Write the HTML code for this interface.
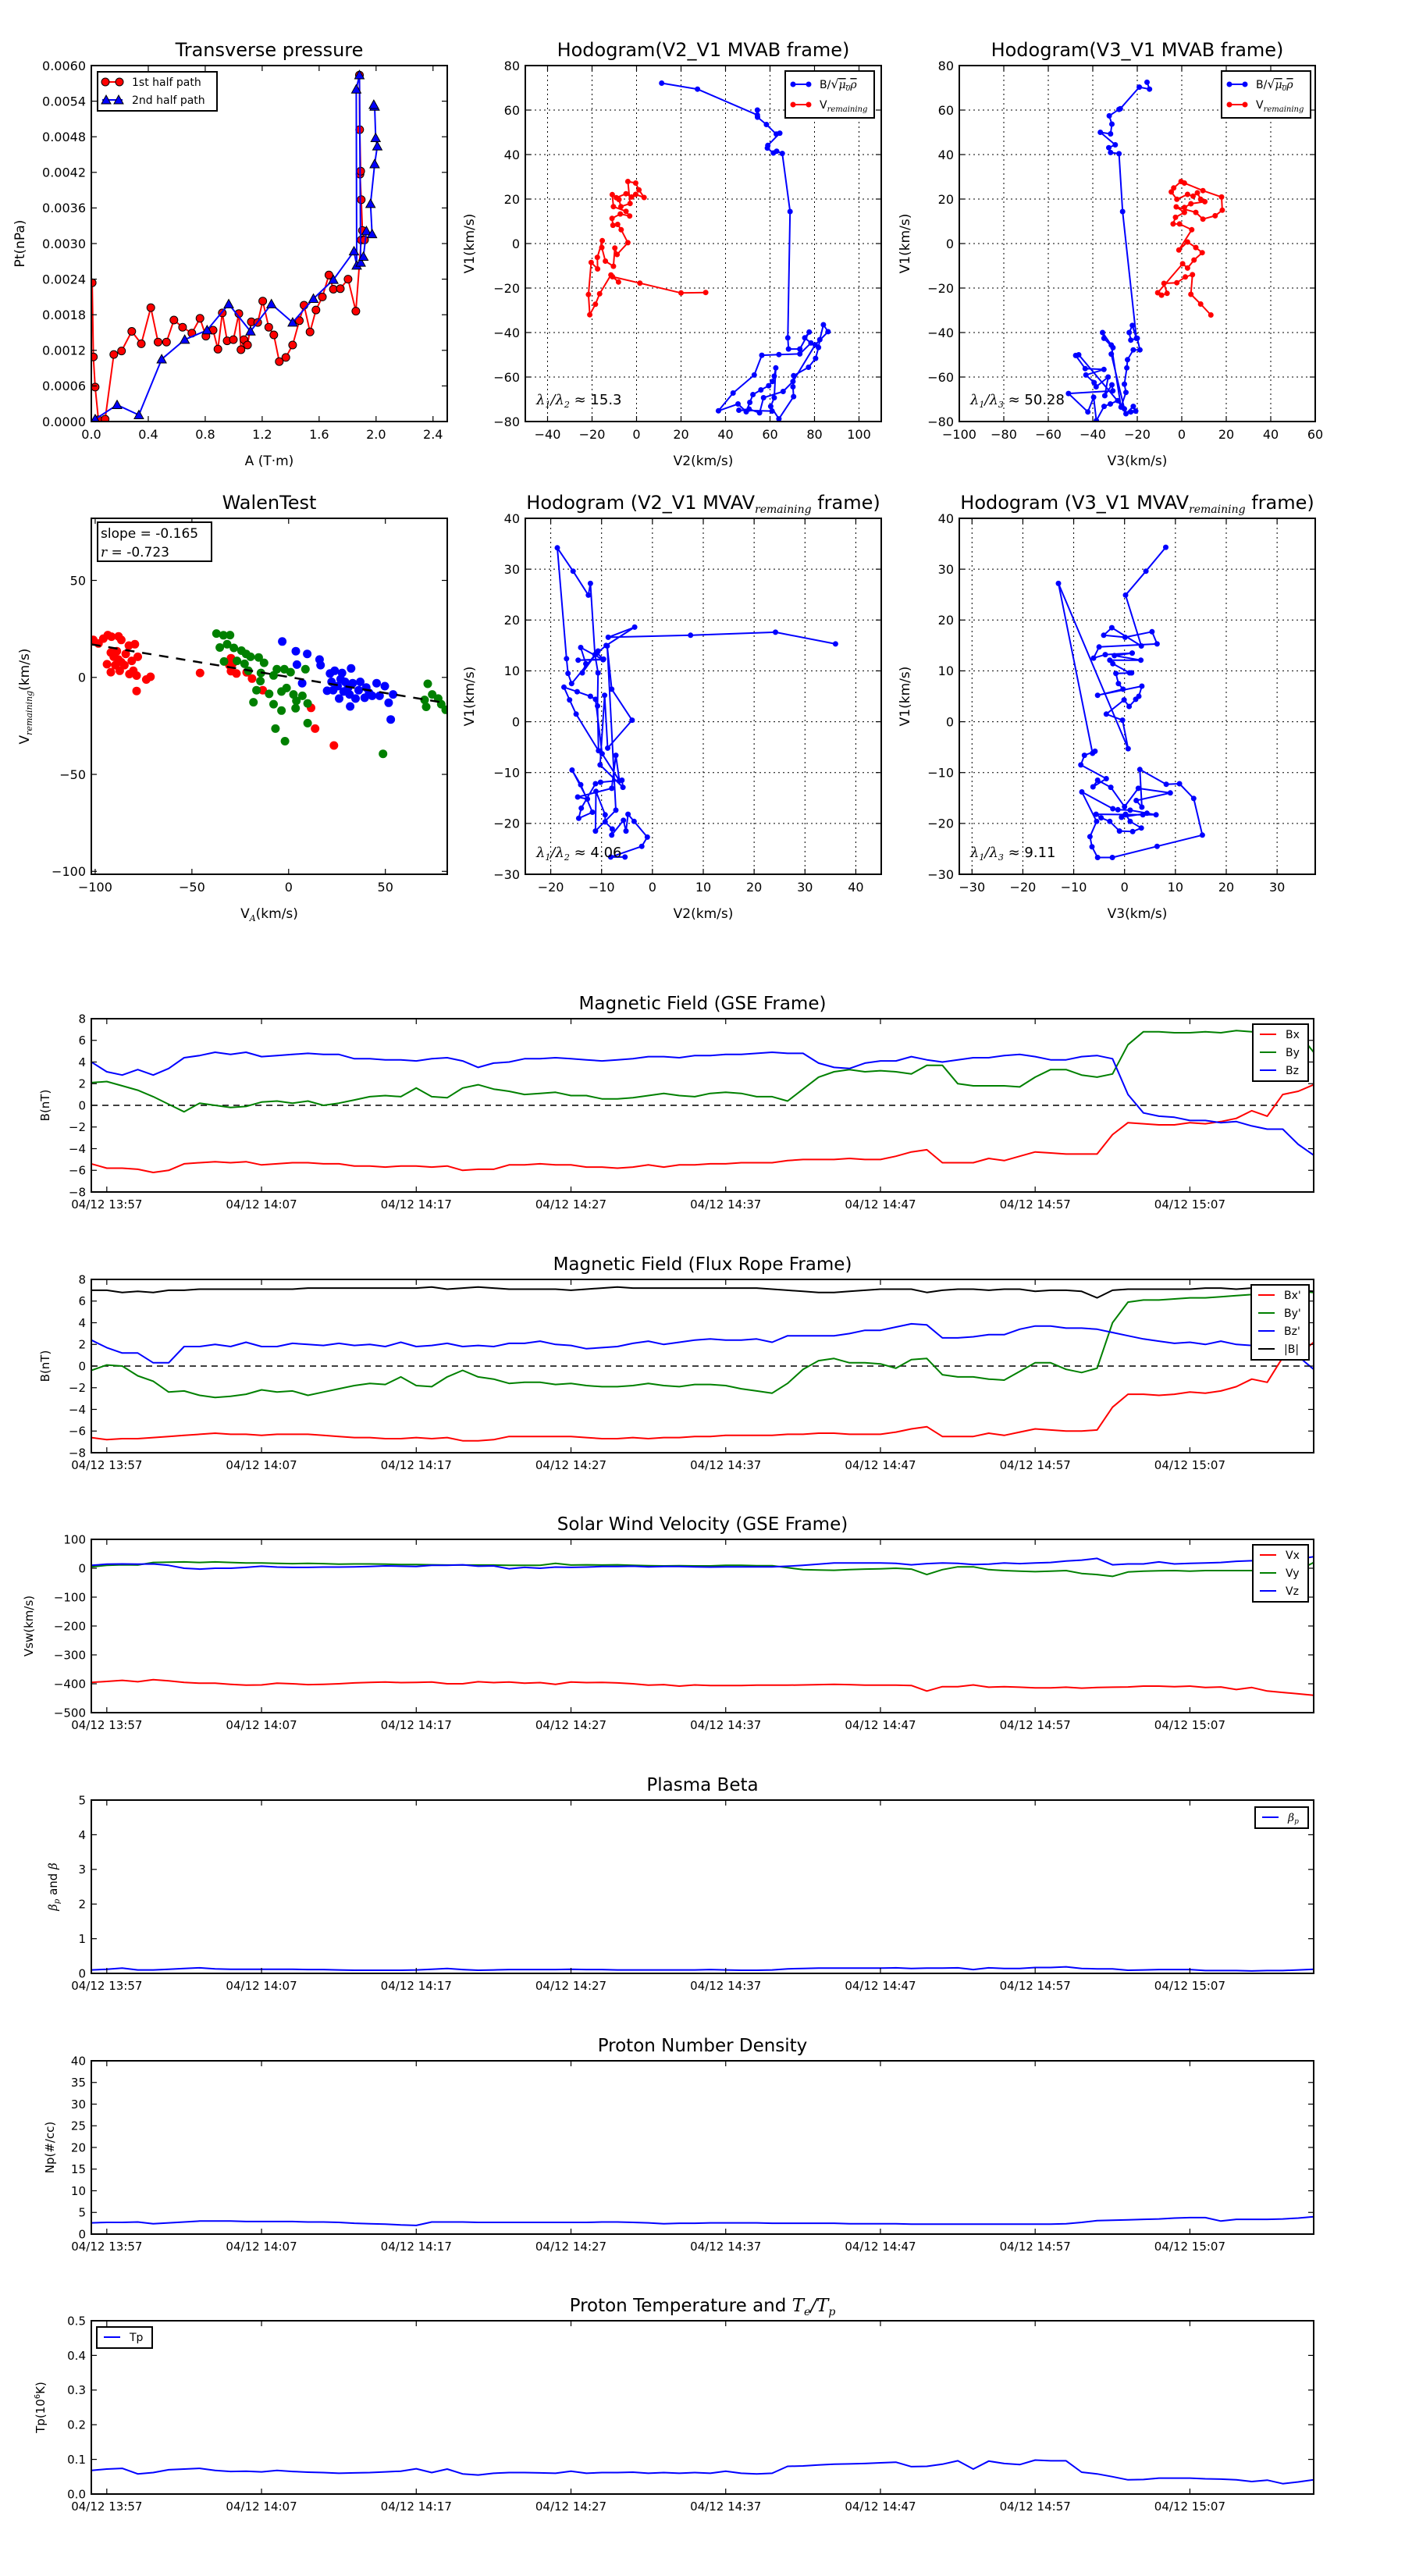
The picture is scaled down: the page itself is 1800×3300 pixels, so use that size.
<!DOCTYPE html>
<html><head><meta charset="utf-8">
<style>
html,body{margin:0;padding:0;background:#fff;}
svg{display:block;font-family:"DejaVu Sans","Liberation Sans",sans-serif;}
</style></head>
<body>
<svg id="fig" width="1800" height="3300" viewBox="0 0 1800 3300" xmlns="http://www.w3.org/2000/svg"></svg>
<script>
// ---------- DATA ----------
// Transverse pressure
const tpRedA = [0.006,0.014,0.027,0.05,0.097,0.158,0.212,0.284,0.351,0.418,0.469,0.528,0.58,0.641,0.706,0.763,0.805,0.855,0.889,0.92,0.954,0.998,1.036,1.051,1.072,1.097,1.124,1.169,1.204,1.246,1.282,1.32,1.366,1.414,1.461,1.494,1.536,1.578,1.623,1.669,1.7,1.749,1.803,1.858,1.896,1.919,1.904,1.896,1.887,1.892,1.885,1.883];
const tpRedP = [0.00234,0.00109,0.00058,0.00003,0.00004,0.00113,0.00119,0.00152,0.00131,0.00192,0.00134,0.00134,0.00171,0.00159,0.00149,0.00174,0.00144,0.00154,0.00122,0.00183,0.00136,0.00138,0.00182,0.00121,0.00138,0.00129,0.00168,0.00167,0.00203,0.00159,0.00146,0.00101,0.00108,0.00129,0.0017,0.00196,0.00151,0.00188,0.0021,0.00247,0.00223,0.00224,0.0024,0.00186,0.00306,0.00306,0.00322,0.00374,0.00417,0.00422,0.00492,0.00584];
const tpBlueA = [0.027,0.181,0.334,0.494,0.656,0.813,0.965,1.118,1.265,1.414,1.56,1.7,1.845,1.864,1.861,1.883,1.892,1.911,1.932,1.972,1.961,1.99,2.009,1.997,1.99,1.984];
const tpBlueP = [0.00004,0.00028,0.00011,0.00105,0.00138,0.00154,0.00198,0.00152,0.00198,0.00167,0.00207,0.00239,0.00287,0.00263,0.0056,0.00584,0.00268,0.00278,0.00321,0.00316,0.00367,0.00434,0.00464,0.00478,0.00531,0.00534];
// Hodogram V2_V1 MVAB
const h1BlueX = [11.3,27.4,54.3,54.3,54.4,58.4,62.8,64.4,59,58.8,61.5,63,65.5,69,68,68.3,73.4,77.6,75.6,78.4,73.4,64,56.3,52.9,43.4,36.8,45.6,49.3,50.9,52.3,55.9,59.4,61.1,61.9,62.6,61.9,60.3,64,70.6,70.3,70.6,77.3,80.5,81.8,82.4,84,86.1,80.3,70.3,65.9,57.1,55.3,50.6,46,60.9];
const h1BlueY = [72.1,69.4,57.8,60,56.8,53.5,49.2,49.6,44.1,42.9,40.7,41.5,40.5,14.4,-42.4,-47.4,-47.4,-39.8,-42.4,-44.7,-49.6,-49.9,-50.2,-59.1,-67.2,-75.2,-72.1,-75.6,-71.4,-67.9,-65.8,-63.9,-62,-59.6,-55.9,-69.3,-73.2,-78.8,-68.8,-64.4,-59.4,-55.6,-51.6,-46.7,-43.2,-36.5,-39.6,-45.5,-62,-66.5,-69.3,-76.1,-74.4,-74.9,-75.3];
const h1RedX = [31.1,20,1.5,-10.8,-8.1,-11.5,-16.6,-18.5,-21,-21.6,-20.4,-17.5,-17.6,-15.4,-15.6,-14,-10.4,-9.75,-8.75,-3.9,-6.9,-8.5,-10.6,-11,-7.3,-3.1,-4.75,-10.4,-10.9,-9.1,-4.75,-2.25,-0.4,3.4,1.1,-0.4,-3.9,-2.9,-7,-7.9];
const h1RedY = [-22,-22.2,-17.8,-14.9,-17.3,-14.1,-22.6,-27.3,-32,-22.9,-8.5,-11.4,-6.2,1.3,-1.8,-7.9,-10.2,-2,-4.9,0.4,6.2,8.6,8.2,11.3,13.3,12.4,14.5,16.6,22,20.6,22.4,20.9,22.1,20.7,24.1,27.2,27.9,18,16.6,19.8];
// Hodogram V3_V1 MVAB
const h2BlueX = [-15.6,-14.5,-19.1,-27.6,-28.2,-32.6,-31.4,-32,-36.6,-29.9,-32.8,-32,-28.2,-26.6,-20.4,-22.2,-23.6,-22.9,-20,-18.8,-21.8,-24.4,-24.7,-25.8,-25.1,-27.3,-31.7,-35.6,-35,-30.9,-31.7,-25.8,-46.3,-47.7,-43.4,-35,-43.1,-39.4,-38.5,-33.1,-34.6,-31.4,-31,-50.9,-42.2,-39.6,-38.4,-34.9,-32.1,-28.8,-25.1,-21.8,-20.7,-22.9];
const h2BlueY = [72.5,69.4,70.3,60.6,60.3,57.4,53.7,49.3,50,44.4,43.1,40.9,40.4,14.4,-42.6,-36.8,-40,-43.4,-42.6,-47.8,-47.8,-52.2,-55.9,-63.2,-66.9,-73.5,-45.6,-40,-42.6,-46.8,-49.7,-74.3,-50,-50.3,-56.2,-56.6,-59.1,-62.5,-64.4,-60,-68.4,-63.5,-66.2,-67.4,-75.7,-69.1,-79.6,-73.2,-72.1,-70.6,-76.5,-73.2,-75.3,-75.7];
const h2RedX = [13.1,8.5,4.1,4.8,1.6,-2.2,-8,-6.6,-9.1,-10.8,0.4,2.6,5.5,9.2,6.3,2.6,-1.3,4.5,-1,-3.9,-2.8,1.2,-2.5,6.3,9.5,15,18.2,17.9,9.5,1.2,-0.3,-3.6,-4.7,-2.2,2.6,5.1,7,8.5,10.4,4.1,1.2];
const h2RedY = [-32.1,-27.2,-22.8,-14,-15,-17.6,-17.9,-22.4,-23.2,-22.1,-9.1,-11,-7.4,-4.1,-1.8,0.7,-2.9,6.2,8.8,8.8,11.8,14,16.5,14,11,12.5,15,20.9,23.8,27.2,27.9,25,23.2,19.9,22.1,21.3,22.8,19.9,18.8,17.9,16.2];
// Walen test
const wRedX = [-101,-98.3,-95.8,-93.5,-91.6,-87.9,-86.5,-93.9,-91.9,-90.4,-88.8,-87.3,-86.5,-84.2,-82.6,-81.1,-79.5,-78,-82.3,-80.3,-78.6,-78.6,-73.6,-71.4,-89.6,-88,-84.9,-91.9,-45.8,-30.6,-29.8,-27,-21.7,-18.9,-13.4,11.6,13.7,23.4,-29.8,-29];
const wRedY = [19.3,17.5,20,21.8,21,21.1,19.3,6.8,2.7,10.6,13.5,3.4,7.8,12.1,16.4,8.5,17.1,10.6,1.7,3.4,0.9,-7,-1.1,0.3,6.3,9.2,6.3,12.8,2.3,6.3,3.2,2,2.6,-0.6,-6.6,-15.7,-26.4,-35.1,9.9,7];
const wGreenX = [-37.3,-33.7,-30.3,-35.6,-31.8,-28.3,-24.4,-22,-19.7,-33.4,-26.7,-22.8,-20.8,-15.5,-12.7,-14.3,-14.6,-16.6,-10.1,-18.2,-7.8,-6.1,-2.2,1,-1.1,-3.7,-7.8,-3.7,2.5,4,7.1,3.6,9.8,8.7,-6.8,-1.9,9.8,48.8,71.9,70.3,71.1,74.2,77.3,78.9,81.2];
const wGreenY = [22.6,21.7,21.8,15.4,17.1,15.2,13.8,12.1,10.6,8.2,8.5,7,3.4,10.3,7.5,2.3,-1.9,-6.6,-8.5,-12.8,1,4.2,4.2,2.7,-5.5,-7.3,-13.8,-17.1,-8.8,-12.1,-9.5,-15.9,-13.4,4.2,-26.4,-32.9,-23.6,-39.4,-3.3,-11.6,-15.2,-8.8,-10.9,-13.8,-16.7];
const wBlueX = [-3.3,3.7,9.6,4.3,16,16.5,7,19.9,21.4,23.8,27.6,32.3,22.2,25.3,29.2,33.1,37,40.1,45.5,49.7,26.1,31.5,34.6,39.3,43.2,47,31.8,51.7,52.8,54,28.4,23,36.2,41.6,30.8,26.9];
const wBlueY = [18.5,13.5,12.1,6.6,9.2,6.3,-3,-6.9,2,3.4,2.3,4.6,-2.3,-4.5,-2.3,-3,-2.3,-5.2,-3,-4.5,-10.9,-8.8,-10.9,-10.5,-9.5,-9.5,-15,-13.1,-21.7,-8.8,-7.3,-6.6,-6.6,-8,-5.2,-0.9];
const walenSlope = -0.165;
const walenIntercept = 0.2;
// Hodogram V2_V1 MVAV
const h3X = [36,24.2,7.5,-8.7,-3.5,-9.1,-10.9,-9.6,-14.6,-9.7,-14.1,-13.1,-13.8,-10.7,-15.9,-16.6,-16.9,-18.7,-15.6,-12.6,-12.2,-11.3,-10.7,-10.8,-10.6,-15,-16.3,-17.4,-14.8,-12.2,-11.2,-9.9,-6.5,-7.2,-8,-14.7,-12.8,-15.8,-14.1,-11.8,-14.5,-14,-11.2,-10.2,-6,-5.8,-10.3,-9.4,-8.8,-4,-8,-8.9,-7.2,-11.2,-11.1,-9.3,-9.3,-7.9,-8,-5.7,-5.2,-4.8,-3.6,-1,-2.1,-8.2,-5.4];
const h3Y = [15.3,17.6,17,16.6,18.6,15,13.5,12.3,12.1,12.2,14.6,11.4,9.6,13.9,7.5,9.5,12.4,34.2,29.6,24.9,27.2,13.2,9.6,3.1,-5.7,1.5,4.3,6.8,5.9,5,4.4,-6.3,-11.6,-6.6,-13.1,-14.8,-15.2,-9.5,-12.4,-17.8,-19,-17,-12.2,-11.9,-11.5,-12.9,-8.5,5.2,-5.2,0.3,6.4,14.9,-17.4,-21.5,-13.7,-18.3,-19.7,-21.1,-22.3,-19.4,-21.5,-18.2,-19.6,-22.7,-24.5,-26.6,-26.6];
// Hodogram V3_V1 MVAV
const h4X = [8.1,4.2,0.2,3.3,-2.5,-4.1,0.1,5.4,6.4,-5,-6.1,-3.8,1.5,-2,3.2,-2.9,-2.3,1,1.4,-1.7,-1.2,-0.3,-5.3,3.4,2.8,2.2,0.9,-0.1,-3.6,-0.4,0.7,-13,-6.3,-5.8,-7.9,-8.6,-3.6,-6.2,-5.3,-2.7,0,2.7,9,2.3,3.4,3,8.2,10.8,13.6,15.3,6.4,-2.4,-5.3,-6.4,-6.8,-5.5,-8.4,-2.3,-1.3,1.1,6.2,3.6,-5.6,-4.6,-2.9,-1,1.6,3.3,1.1,0.2,-0.6,4.4];
const h4Y = [34.3,29.6,24.9,14.9,18.5,17,16.6,17.7,15.3,14.7,12.5,13.2,13.5,13,12.1,12.1,11.4,9.6,9.6,9.5,7.5,6.4,5.2,7,5,4.4,3,4.3,1.5,0.3,-5.3,27.2,-6.2,-5.8,-6.6,-8.5,-11.2,-12.8,-11.5,-12.9,-16.7,-13.1,-14,-15.5,-16.8,-9.4,-12.3,-12.2,-15.1,-22.3,-24.5,-26.7,-26.7,-24.6,-22.6,-19.6,-13.8,-17.1,-17.3,-17.4,-18.3,-18.3,-18.2,-18.9,-19.6,-21.5,-21.6,-20.9,-19.6,-18.2,-18.8,-18];
// Time series (1-min samples starting 13:56)
const timeTickLabels = ["04/12 13:57","04/12 14:07","04/12 14:17","04/12 14:27","04/12 14:37","04/12 14:47","04/12 14:57","04/12 15:07"];
const timeTickMinutes = [1,11,21,31,41,51,61,71];
const bxGse = [-5.4,-5.8,-5.8,-5.9,-6.2,-6.0,-5.4,-5.3,-5.2,-5.3,-5.2,-5.5,-5.4,-5.3,-5.3,-5.4,-5.4,-5.6,-5.6,-5.7,-5.6,-5.6,-5.7,-5.6,-6.0,-5.9,-5.9,-5.5,-5.5,-5.4,-5.5,-5.5,-5.7,-5.7,-5.8,-5.7,-5.5,-5.7,-5.5,-5.5,-5.4,-5.4,-5.3,-5.3,-5.3,-5.1,-5.0,-5.0,-5.0,-4.9,-5.0,-5.0,-4.7,-4.3,-4.1,-5.3,-5.3,-5.3,-4.9,-5.1,-4.7,-4.3,-4.4,-4.5,-4.5,-4.5,-2.7,-1.6,-1.7,-1.8,-1.8,-1.6,-1.7,-1.5,-1.2,-0.5,-1.0,1.0,1.3,1.9];
const byGse = [2.1,2.2,1.8,1.4,0.8,0.1,-0.6,0.2,0,-0.2,-0.1,0.3,0.4,0.2,0.4,0,0.2,0.5,0.8,0.9,0.8,1.6,0.8,0.7,1.6,1.9,1.5,1.3,1.0,1.1,1.2,0.9,0.9,0.6,0.6,0.7,0.9,1.1,0.9,0.8,1.1,1.2,1.1,0.8,0.8,0.4,1.5,2.6,3.1,3.3,3.1,3.2,3.1,2.9,3.7,3.7,2.0,1.8,1.8,1.8,1.7,2.6,3.3,3.3,2.8,2.6,2.9,5.6,6.8,6.8,6.7,6.7,6.8,6.7,6.9,6.8,6.8,6.8,6.7,4.9];
const bzGse = [4.0,3.1,2.8,3.3,2.8,3.4,4.4,4.6,4.9,4.7,4.9,4.5,4.6,4.7,4.8,4.7,4.7,4.3,4.3,4.2,4.2,4.1,4.3,4.4,4.1,3.5,3.9,4.0,4.3,4.3,4.4,4.3,4.2,4.1,4.2,4.3,4.5,4.5,4.4,4.6,4.6,4.7,4.7,4.8,4.9,4.8,4.8,3.9,3.5,3.4,3.9,4.1,4.1,4.5,4.2,4.0,4.2,4.4,4.4,4.6,4.7,4.5,4.2,4.2,4.5,4.6,4.3,1.0,-0.7,-1.0,-1.1,-1.4,-1.4,-1.6,-1.5,-1.9,-2.2,-2.2,-3.6,-4.6];
const bxFr = [-6.6,-6.8,-6.7,-6.7,-6.6,-6.5,-6.4,-6.3,-6.2,-6.3,-6.3,-6.4,-6.3,-6.3,-6.3,-6.4,-6.5,-6.6,-6.6,-6.7,-6.7,-6.6,-6.7,-6.6,-6.9,-6.9,-6.8,-6.5,-6.5,-6.5,-6.5,-6.5,-6.6,-6.7,-6.7,-6.6,-6.7,-6.6,-6.6,-6.5,-6.5,-6.4,-6.4,-6.4,-6.4,-6.3,-6.3,-6.2,-6.2,-6.3,-6.3,-6.3,-6.1,-5.8,-5.6,-6.5,-6.5,-6.5,-6.2,-6.4,-6.1,-5.8,-5.9,-6.0,-6.0,-5.9,-3.8,-2.6,-2.6,-2.7,-2.6,-2.4,-2.5,-2.3,-1.9,-1.2,-1.5,0.8,1.0,2.2];
const byFr = [-0.4,0.1,0,-0.9,-1.4,-2.4,-2.3,-2.7,-2.9,-2.8,-2.6,-2.2,-2.4,-2.3,-2.7,-2.4,-2.1,-1.8,-1.6,-1.7,-1.0,-1.8,-1.9,-1.0,-0.4,-1.0,-1.2,-1.6,-1.5,-1.5,-1.7,-1.6,-1.8,-1.9,-1.9,-1.8,-1.6,-1.8,-1.9,-1.7,-1.7,-1.8,-2.1,-2.3,-2.5,-1.6,-0.3,0.5,0.7,0.3,0.3,0.2,-0.2,0.6,0.7,-0.8,-1.0,-1.0,-1.2,-1.3,-0.5,0.3,0.3,-0.3,-0.6,-0.2,4.0,5.9,6.1,6.1,6.2,6.3,6.3,6.4,6.5,6.6,6.8,6.8,6.9,6.8];
const bzFr = [2.4,1.7,1.2,1.2,0.3,0.3,1.8,1.8,2.0,1.8,2.2,1.8,1.8,2.1,2.0,1.9,2.1,1.9,2.0,1.8,2.2,1.8,1.9,2.1,1.8,1.9,1.8,2.1,2.1,2.3,2.0,1.9,1.6,1.7,1.8,2.1,2.3,2.0,2.2,2.4,2.5,2.4,2.4,2.5,2.2,2.8,2.8,2.8,2.8,3.0,3.3,3.3,3.6,3.9,3.8,2.6,2.6,2.7,2.9,2.9,3.4,3.7,3.7,3.5,3.5,3.4,3.1,2.8,2.5,2.3,2.1,2.2,2.0,2.3,2.0,1.9,1.5,0.9,0.9,-0.3];
const btFr = [7.0,7.0,6.8,6.9,6.8,7.0,7.0,7.1,7.1,7.1,7.1,7.1,7.1,7.1,7.2,7.2,7.2,7.2,7.2,7.2,7.2,7.2,7.3,7.1,7.2,7.3,7.2,7.1,7.1,7.1,7.1,7.0,7.1,7.2,7.3,7.2,7.2,7.2,7.2,7.2,7.2,7.2,7.2,7.2,7.1,7.0,6.9,6.8,6.8,6.9,7.0,7.1,7.1,7.1,6.8,7.0,7.1,7.1,7.0,7.1,7.1,6.9,7.0,7.0,6.9,6.3,7.0,7.1,7.1,7.1,7.1,7.1,7.2,7.2,7.1,7.2,7.1,7.1,7.0,6.9];
const vxGse = [-395,-392,-388,-393,-386,-390,-395,-398,-398,-402,-405,-404,-398,-400,-403,-402,-400,-397,-395,-394,-396,-395,-394,-400,-400,-393,-396,-394,-398,-396,-402,-394,-396,-395,-397,-400,-405,-403,-408,-404,-406,-406,-406,-405,-405,-405,-404,-403,-402,-403,-405,-405,-405,-406,-425,-410,-410,-404,-412,-410,-412,-414,-414,-412,-415,-413,-412,-411,-408,-408,-410,-408,-413,-411,-420,-413,-425,-430,-435,-440];
const vyGse = [5,10,12,11,20,21,22,20,22,20,18,18,17,16,17,16,14,15,15,14,13,13,12,11,11,11,11,10,10,10,17,11,12,11,12,10,9,8,9,8,8,10,10,9,9,2,-5,-6,-7,-5,-3,-2,0,-3,-22,-5,5,5,-5,-8,-10,-12,-10,-8,-18,-22,-28,-13,-10,-9,-8,-10,-8,-8,-8,-8,-8,-8,-8,20];
const vzGse = [10,14,15,14,15,10,0,-3,0,0,3,7,4,3,3,4,4,5,6,8,7,6,10,10,12,7,8,-2,3,0,4,3,4,6,6,7,5,6,6,5,4,5,5,5,5,7,10,14,18,18,18,18,17,12,16,18,17,13,14,18,16,18,20,25,28,34,12,15,15,22,15,17,18,20,24,26,28,30,32,40];
const betaP = [0.10,0.12,0.15,0.10,0.10,0.12,0.14,0.16,0.13,0.12,0.12,0.12,0.12,0.12,0.11,0.11,0.10,0.09,0.09,0.09,0.09,0.10,0.12,0.14,0.11,0.09,0.10,0.11,0.11,0.11,0.11,0.12,0.11,0.11,0.10,0.10,0.10,0.10,0.10,0.10,0.11,0.10,0.09,0.09,0.10,0.13,0.14,0.15,0.15,0.15,0.15,0.15,0.16,0.14,0.15,0.15,0.16,0.11,0.16,0.14,0.14,0.17,0.17,0.19,0.14,0.13,0.13,0.09,0.10,0.11,0.11,0.11,0.08,0.08,0.08,0.07,0.08,0.08,0.10,0.12];
const densityNp = [2.6,2.7,2.7,2.8,2.4,2.6,2.8,3.0,3.0,3.0,2.9,2.9,2.9,2.9,2.8,2.8,2.7,2.5,2.4,2.3,2.1,2.0,2.8,2.8,2.8,2.7,2.7,2.7,2.7,2.7,2.7,2.7,2.7,2.8,2.8,2.7,2.6,2.4,2.5,2.5,2.6,2.6,2.6,2.6,2.5,2.5,2.5,2.5,2.5,2.4,2.4,2.4,2.4,2.3,2.3,2.3,2.3,2.3,2.3,2.3,2.3,2.3,2.3,2.4,2.7,3.1,3.2,3.3,3.4,3.5,3.7,3.8,3.8,3.0,3.4,3.4,3.4,3.5,3.7,4.0];
const tempTp = [0.068,0.072,0.074,0.058,0.062,0.070,0.072,0.074,0.068,0.065,0.066,0.064,0.068,0.065,0.063,0.062,0.060,0.061,0.062,0.064,0.066,0.073,0.062,0.072,0.058,0.055,0.060,0.062,0.062,0.061,0.060,0.066,0.060,0.062,0.062,0.063,0.060,0.062,0.060,0.062,0.060,0.066,0.060,0.058,0.060,0.080,0.081,0.084,0.086,0.087,0.088,0.090,0.092,0.079,0.080,0.086,0.096,0.072,0.095,0.088,0.085,0.098,0.096,0.096,0.063,0.058,0.050,0.041,0.042,0.046,0.046,0.046,0.044,0.043,0.041,0.036,0.040,0.030,0.035,0.041];

// ---------- DRAWING ----------
const NS = 'http://www.w3.org/2000/svg';
const fig = document.getElementById('fig');
function el(tag, attrs, parent) {
  const n = document.createElementNS(NS, tag);
  for (const k in attrs) n.setAttribute(k, attrs[k]);
  (parent || fig).appendChild(n);
  return n;
}
function fmtMinus(s) { return String(s).replace('-', '\u2212'); }

function makeAxes(o) {
  const g = el('g', {});
  
  
  const sx = v => o.x0 + (v - o.xd[0]) / (o.xd[1] - o.xd[0]) * o.w;
  const sy = v => o.y0 + o.h - (v - o.yd[0]) / (o.yd[1] - o.yd[0]) * o.h;
  const fs = o.fs || 16;
  // clip
  const cid = o.name + '-clip';
  const cp = el('clipPath', {id: cid}, g);
  el('rect', {x: o.x0, y: o.y0, width: o.w, height: o.h}, cp);
  // grid
  if (o.grid) {
    o.xticks.forEach(v => {
      const gl = el('line', {x1: sx(v), x2: sx(v), y1: o.y0, y2: o.y0 + o.h, stroke: '#000', 'stroke-width': 1, 'stroke-dasharray': '2,4'}, g);
      
      
    });
    o.yticks.forEach(v => {
      const gl = el('line', {x1: o.x0, x2: o.x0 + o.w, y1: sy(v), y2: sy(v), stroke: '#000', 'stroke-width': 1, 'stroke-dasharray': '2,4'}, g);
      
      
    });
  }
  const plot = el('g', {'clip-path': 'url(#' + cid + ')'}, g);
  
  
  // ticks
  const tl = 7;
  o.xticks.forEach((v, i) => {
    const x = sx(v);
    el('line', {x1: x, x2: x, y1: o.y0 + o.h, y2: o.y0 + o.h - tl, stroke: '#000', 'stroke-width': 1.2}, g);
    el('line', {x1: x, x2: x, y1: o.y0, y2: o.y0 + tl, stroke: '#000', 'stroke-width': 1.2}, g);
    const t = el('text', {x: x, y: o.y0 + o.h + fs + 6, 'font-size': fs, 'text-anchor': 'middle', fill: '#000'}, g);
    t.textContent = o.xlabels ? o.xlabels[i] : fmtMinus(o.xfmt ? o.xfmt(v) : v);
    
    
  });
  o.yticks.forEach(v => {
    const y = sy(v);
    el('line', {x1: o.x0, x2: o.x0 + tl, y1: y, y2: y, stroke: '#000', 'stroke-width': 1.2}, g);
    el('line', {x1: o.x0 + o.w, x2: o.x0 + o.w - tl, y1: y, y2: y, stroke: '#000', 'stroke-width': 1.2}, g);
    const t = el('text', {x: o.x0 - 7, y: y + fs * 0.36, 'font-size': fs, 'text-anchor': 'end', fill: '#000'}, g);
    t.textContent = fmtMinus(o.yfmt ? o.yfmt(v) : v);
    
    
  });
  const fr = el('rect', {x: o.x0, y: o.y0, width: o.w, height: o.h, fill: 'none', stroke: '#000', 'stroke-width': 2}, g);
  
  
  // title
  const ti = el('text', {x: o.x0 + o.w / 2, y: o.y0 - 12, 'font-size': o.tfs || 24, 'text-anchor': 'middle', fill: '#000'}, g);
  ti.innerHTML = o.title;
  
  
  if (o.xlabel) {
    const xl = el('text', {x: o.x0 + o.w / 2, y: o.y0 + o.h + 56, 'font-size': o.lfs || 17, 'text-anchor': 'middle', fill: '#000'}, g);
    xl.innerHTML = o.xlabel;
    
    
  }
  if (o.ylabel) {
    const yx = o.x0 - o.ylOff, yy = o.y0 + o.h / 2;
    const yl = el('text', {x: yx, y: yy, 'font-size': o.lfs || 17, 'text-anchor': 'middle', fill: '#000', transform: 'rotate(-90 ' + yx + ' ' + yy + ')'}, g);
    yl.innerHTML = o.ylabel;
    
    
  }
  return {sx, sy, g, plot, o};
}
function drawLine(ax, xs, ys, color, lw) {
  let d = '';
  xs.forEach((x, i) => { d += (i ? 'L' : 'M') + ax.sx(x).toFixed(1) + ',' + ax.sy(ys[i]).toFixed(1); });
  return el('path', {d: d, fill: 'none', stroke: color, 'stroke-width': lw || 2, 'stroke-linejoin': 'round'}, ax.plot);
}
function drawDots(ax, xs, ys, color, r, stroke) {
  const g = el('g', {}, ax.plot);
  xs.forEach((x, i) => {
    const c = el('circle', {cx: ax.sx(x).toFixed(1), cy: ax.sy(ys[i]).toFixed(1), r: r, fill: color, stroke: stroke || 'none', 'stroke-width': 1}, g);
    
    
  });
  return g;
}
function drawTris(ax, xs, ys, color, r) {
  const g = el('g', {}, ax.plot);
  xs.forEach((x, i) => {
    const cx = ax.sx(x), cy = ax.sy(ys[i]);
    const p = el('polygon', {points: cx + ',' + (cy - r) + ' ' + (cx - r) + ',' + (cy + r * 0.8) + ' ' + (cx + r) + ',' + (cy + r * 0.8), fill: color, stroke: '#000', 'stroke-width': 1}, g);
    
    
  });
  return g;
}
function legendBox(x, y, w, h, parent) {
  return el('rect', {x: x, y: y, width: w, height: h, fill: '#fff', stroke: '#000', 'stroke-width': 2}, parent);
}
function legendEntry(parent, x1, x2, y, color, label, fs, marker) {
  const g = el('g', {}, parent);
  el('line', {x1: x1, x2: x2, y1: y, y2: y, stroke: color, 'stroke-width': 2}, g);
  if (marker === 'dot') { el('circle', {cx: x1 + 2, cy: y, r: 3.5, fill: color}, g); el('circle', {cx: x2 - 2, cy: y, r: 3.5, fill: color}, g); }
  if (marker === 'bigdot') { el('circle', {cx: x1 + 4, cy: y, r: 5, fill: color, stroke: '#000'}, g); el('circle', {cx: x2 - 4, cy: y, r: 5, fill: color, stroke: '#000'}, g); }
  if (marker === 'tri') {
    [x1 + 5, x2 - 5].forEach(cx => el('polygon', {points: cx + ',' + (y - 6) + ' ' + (cx - 6) + ',' + (y + 5) + ' ' + (cx + 6) + ',' + (y + 5), fill: color, stroke: '#000'}, g));
  }
  const t = el('text', {x: x2 + 12, y: y + fs * 0.36, 'font-size': fs, fill: '#000'}, g);
  t.innerHTML = label;
  return g;
}
const tickRange = (a, b, s) => { const r = []; for (let v = a; v <= b + 1e-9; v += s) r.push(Math.round(v * 1e6) / 1e6); return r; };

// ===== Row 1 =====
const axTP = makeAxes({name: 'transverse-pressure-chart', x0: 117, y0: 84, w: 456, h: 456, xd: [0, 2.5], yd: [0, 0.006],
  xticks: tickRange(0, 2.4, 0.4), yticks: tickRange(0, 0.006, 0.0006), xfmt: v => v.toFixed(1), yfmt: v => v.toFixed(4),
  title: 'Transverse pressure', xlabel: 'A (T\u00b7m)', ylabel: 'Pt(nPa)', ylOff: 86});
const tpR = drawLine(axTP, tpRedA, tpRedP, '#f00', 2);

drawDots(axTP, tpRedA, tpRedP, '#f00', 5, '#000');
const tpB = drawLine(axTP, tpBlueA, tpBlueP, '#00f', 2);

drawTris(axTP, tpBlueA, tpBlueP, '#00f', 6);
{
  const lg = el('g', {}, axTP.g);
  
  
  legendBox(125, 92, 153, 50, lg);
  const e1 = legendEntry(lg, 131, 157, 105, '#f00', '1st half path', 14, 'bigdot');
  
  const e2 = legendEntry(lg, 131, 157, 128, '#00f', '2nd half path', 14, 'tri');
  
}

function hodoLegend(ax, x, y) {
  const lg = el('g', {}, ax.g);
  
  
  legendBox(x, y, 114, 60, lg);
  const e1 = legendEntry(lg, x + 8, x + 32, y + 17, '#00f', 'B/<tspan font-size="16">\u221a</tspan><tspan text-decoration="overline" font-family="DejaVu Serif" font-style="italic">\u03bc<tspan font-size="9" dy="3">0</tspan><tspan dy="-3">\u03c1</tspan></tspan>', 14, 'dot');
  
  const e2 = legendEntry(lg, x + 8, x + 32, y + 43, '#f00', 'V<tspan font-size="10" dy="4" font-family="DejaVu Serif" font-style="italic">remaining</tspan>', 14, 'dot');
  
}
function lambdaText(ax, sub, val) {
  const t = el('text', {x: ax.o.x0 + 14, y: ax.o.y0 + ax.o.h - 22, 'font-size': 18, fill: '#000'}, ax.g);
  t.innerHTML = '<tspan font-family="DejaVu Serif" font-style="italic">\u03bb<tspan font-size="11" dy="4">1</tspan><tspan dy="-4">/\u03bb</tspan><tspan font-size="11" dy="4">' + sub + '</tspan></tspan><tspan dy="-4"> \u2248 ' + val + '</tspan>';
  
  
}

const axH1 = makeAxes({name: 'hodogram-v2-v1-mvab', x0: 673, y0: 84, w: 456, h: 456, xd: [-50, 110], yd: [-80, 80], grid: true,
  xticks: tickRange(-40, 100, 20), yticks: tickRange(-80, 80, 20),
  title: 'Hodogram(V2_V1 MVAB frame)', xlabel: 'V2(km/s)', ylabel: 'V1(km/s)', ylOff: 66});
const h1b = drawLine(axH1, h1BlueX, h1BlueY, '#00f', 2); 
drawDots(axH1, h1BlueX, h1BlueY, '#00f', 3.5);
const h1r = drawLine(axH1, h1RedX, h1RedY, '#f00', 2); 
drawDots(axH1, h1RedX, h1RedY, '#f00', 3.5);
hodoLegend(axH1, 1006, 91);
lambdaText(axH1, '2', '15.3');

const axH2 = makeAxes({name: 'hodogram-v3-v1-mvab', x0: 1229, y0: 84, w: 456, h: 456, xd: [-100, 60], yd: [-80, 80], grid: true,
  xticks: tickRange(-100, 60, 20), yticks: tickRange(-80, 80, 20),
  title: 'Hodogram(V3_V1 MVAB frame)', xlabel: 'V3(km/s)', ylabel: 'V1(km/s)', ylOff: 64});
const h2b = drawLine(axH2, h2BlueX, h2BlueY, '#00f', 2); 
drawDots(axH2, h2BlueX, h2BlueY, '#00f', 3.5);
const h2r = drawLine(axH2, h2RedX, h2RedY, '#f00', 2); 
drawDots(axH2, h2RedX, h2RedY, '#f00', 3.5);
hodoLegend(axH2, 1565, 91);
lambdaText(axH2, '3', '50.28');

// ===== Row 2 =====
const axW = makeAxes({name: 'walen-test-chart', x0: 117, y0: 664, w: 456, h: 456, xd: [-102, 82], yd: [-101.5, 82],
  xticks: [-100, -50, 0, 50], yticks: [-100, -50, 0, 50],
  title: 'WalenTest', xlabel: 'V<tspan font-size="11" dy="4" font-family="DejaVu Serif" font-style="italic">A</tspan><tspan dy="-4">(km/s)</tspan>',
  ylabel: 'V<tspan font-size="11" dy="4" font-family="DejaVu Serif" font-style="italic">remaining</tspan><tspan dy="-4">(km/s)</tspan>', ylOff: 80});
const wr = drawDots(axW, wRedX, wRedY, '#f00', 5.5); 
const wg = drawDots(axW, wGreenX, wGreenY, '#008000', 5.5); 
const wb = drawDots(axW, wBlueX, wBlueY, '#00f', 5.5); 
{
  const fit = el('line', {x1: axW.sx(-102), y1: axW.sy(walenIntercept + walenSlope * -102), x2: axW.sx(82), y2: axW.sy(walenIntercept + walenSlope * 82), stroke: '#000', 'stroke-width': 2.5, 'stroke-dasharray': '12,10'}, axW.plot);
  
  
  const bx = el('g', {}, axW.g);
  
  
  legendBox(125, 669, 146, 50, bx);
  const t1 = el('text', {x: 129, y: 689, 'font-size': 17, fill: '#000'}, bx); t1.textContent = 'slope = -0.165';
  const t2 = el('text', {x: 129, y: 713, 'font-size': 17, fill: '#000'}, bx); t2.innerHTML = '<tspan font-family="DejaVu Serif" font-style="italic">r</tspan> = -0.723';
}

const axH3 = makeAxes({name: 'hodogram-v2-v1-mvav', x0: 673, y0: 664, w: 456, h: 456, xd: [-25, 45], yd: [-30, 40], grid: true,
  xticks: tickRange(-20, 40, 10), yticks: tickRange(-30, 40, 10),
  title: 'Hodogram (V2_V1 MVAV<tspan font-size="14" dy="5" font-family="DejaVu Serif" font-style="italic">remaining</tspan><tspan dy="-5"> frame)</tspan>', xlabel: 'V2(km/s)', ylabel: 'V1(km/s)', ylOff: 66});
const h3 = drawLine(axH3, h3X, h3Y, '#00f', 2); 
drawDots(axH3, h3X, h3Y, '#00f', 3.5);
lambdaText(axH3, '2', '4.06');

const axH4 = makeAxes({name: 'hodogram-v3-v1-mvav', x0: 1229, y0: 664, w: 456, h: 456, xd: [-32.5, 37.5], yd: [-30, 40], grid: true,
  xticks: tickRange(-30, 30, 10), yticks: tickRange(-30, 40, 10),
  title: 'Hodogram (V3_V1 MVAV<tspan font-size="14" dy="5" font-family="DejaVu Serif" font-style="italic">remaining</tspan><tspan dy="-5"> frame)</tspan>', xlabel: 'V3(km/s)', ylabel: 'V1(km/s)', ylOff: 64});
const h4 = drawLine(axH4, h4X, h4Y, '#00f', 2); 
drawDots(axH4, h4X, h4Y, '#00f', 3.5);
lambdaText(axH4, '3', '9.11');

// ===== Time series =====
function tsAxes(name, top, yd, yticks, title, ylabel, ylOff, yfmt) {
  return makeAxes({name: name, x0: 117, y0: top, w: 1566, h: 222, xd: [0, 79], yd: yd, fs: 15, tfs: 23,
    xticks: timeTickMinutes, xlabels: timeTickLabels, yticks: yticks, yfmt: yfmt, title: title, ylabel: ylabel, ylOff: ylOff, lfs: 15});
}
function tsLine(ax, ys, color, name) {
  const xs = ys.map((_, i) => i);
  const p = drawLine(ax, xs, ys, color, 2);
  
  
}
function zeroLine(ax) {
  const z = el('line', {x1: ax.o.x0, x2: ax.o.x0 + ax.o.w, y1: ax.sy(0), y2: ax.sy(0), stroke: '#000', 'stroke-width': 1.5, 'stroke-dasharray': '8,6'}, ax.plot);
  
  
}
function tsLegend(ax, x, y, w, entries) {
  const lg = el('g', {}, ax.g);
  
  
  legendBox(x, y, w, entries.length * 23 + 4, lg);
  entries.forEach((e, i) => {
    const en = legendEntry(lg, x + 9, x + 30, y + 13 + i * 23, e[0], e[1], 14);
    
  });
}

const axGse = tsAxes('magnetic-field-gse-chart', 1305, [-8, 8], tickRange(-8, 8, 2), 'Magnetic Field (GSE Frame)', 'B(nT)', 54);
zeroLine(axGse);
tsLine(axGse, bxGse, '#f00', 'bx-line');
tsLine(axGse, byGse, '#008000', 'by-line');
tsLine(axGse, bzGse, '#00f', 'bz-line');
tsLegend(axGse, 1605, 1312, 71, [['#f00', 'Bx'], ['#008000', 'By'], ['#00f', 'Bz']]);

const axFr = tsAxes('magnetic-field-flux-rope-chart', 1639, [-8, 8], tickRange(-8, 8, 2), 'Magnetic Field (Flux Rope Frame)', 'B(nT)', 54);
zeroLine(axFr);
tsLine(axFr, bxFr, '#f00', 'bx-prime-line');
tsLine(axFr, byFr, '#008000', 'by-prime-line');
tsLine(axFr, bzFr, '#00f', 'bz-prime-line');
tsLine(axFr, btFr, '#000', 'b-magnitude-line');
tsLegend(axFr, 1603, 1646, 74, [['#f00', "Bx'"], ['#008000', "By'"], ['#00f', "Bz'"], ['#000', '|B|']]);

const axV = tsAxes('solar-wind-velocity-chart', 1972, [-500, 100], tickRange(-500, 100, 100), 'Solar Wind Velocity (GSE Frame)', 'Vsw(km/s)', 75);
tsLine(axV, vxGse, '#f00', 'vx-line');
tsLine(axV, vyGse, '#008000', 'vy-line');
tsLine(axV, vzGse, '#00f', 'vz-line');
tsLegend(axV, 1605, 1979, 71, [['#f00', 'Vx'], ['#008000', 'Vy'], ['#00f', 'Vz']]);

const axB = tsAxes('plasma-beta-chart', 2306, [0, 5], tickRange(0, 5, 1), 'Plasma Beta',
  '<tspan font-family="DejaVu Serif" font-style="italic">\u03b2<tspan font-size="10" dy="3">p</tspan></tspan><tspan dy="-3"> and </tspan><tspan font-family="DejaVu Serif" font-style="italic">\u03b2</tspan>', 44);
tsLine(axB, betaP, '#00f', 'beta-p-line');
tsLegend(axB, 1608, 2315, 68, [['#00f', '<tspan font-family="DejaVu Serif" font-style="italic">\u03b2<tspan font-size="9" dy="3">p</tspan></tspan>']]);

const axN = tsAxes('proton-density-chart', 2640, [0, 40], tickRange(0, 40, 5), 'Proton Number Density', 'Np(#/cc)', 48);
tsLine(axN, densityNp, '#00f', 'density-line');

const axT = tsAxes('proton-temperature-chart', 2973, [0, 0.5], tickRange(0, 0.5, 0.1), 'Proton Temperature and <tspan font-family="DejaVu Serif" font-style="italic">T<tspan font-size="14" dy="5">e</tspan><tspan dy="-5">/T</tspan><tspan font-size="14" dy="5">p</tspan></tspan>',
  'Tp(10<tspan font-size="10" dy="-6">6</tspan><tspan dy="6">K)</tspan>', 60, v => v.toFixed(1));
tsLine(axT, tempTp, '#00f', 'tp-line');
tsLegend(axT, 124, 2981, 71, [['#00f', 'Tp']]);
</script>
</body></html>
